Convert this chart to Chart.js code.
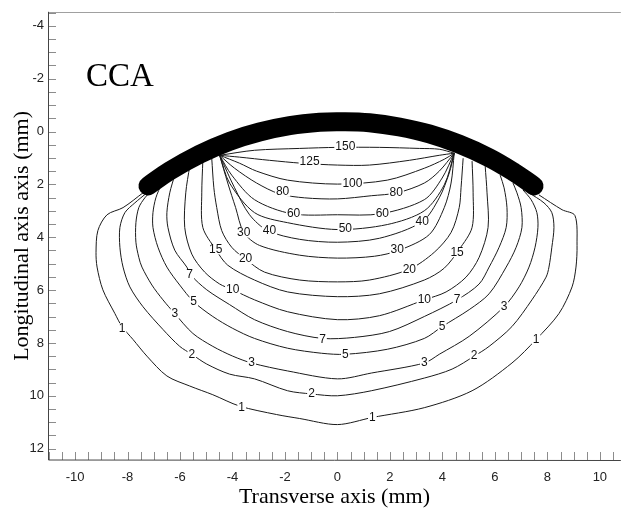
<!DOCTYPE html>
<html>
<head>
<meta charset="utf-8">
<script src="https://cdn.jsdelivr.net/npm/chart.js@4.4.1/dist/chart.umd.min.js"></script>
<style>
  html, body { margin: 0; padding: 0; background: #fff; }
</style>
</head>
<body>
<canvas id="c" width="623" height="511"></canvas>
<script>
// --- CCA contour map (transverse vs longitudinal, mm) ---

// axis ticks (mm)
const xTickLabels = [-10, -8, -6, -4, -2, 0, 2, 4, 6, 8, 10];
const yTickLabels = [-4, -2, 0, 2, 4, 6, 8, 10, 12];

// thick transducer arc, centreline [x, y]
const arc = [[-7.22, 2.06], [-6.39, 1.49], [-5.25, 0.86], [-4.11, 0.37], [-2.97, 0.02], [-1.82, -0.22], [-0.68, -0.35],
  [0.13, -0.37], [1.22, -0.33], [2.36, -0.17], [3.50, 0.09], [4.64, 0.48], [5.78, 0.99], [6.73, 1.54], [7.49, 2.06]];

// iso-contours [x, y]
const lvl150 = [[-4.49, 0.90], [-3.16, 0.71], [-1.44, 0.64], [0, 0.60], [1.60, 0.60], [3.12, 0.64], [3.88, 0.67], [4.45, 0.82]];
const lvl125 = [[-4.49, 0.90], [-3.73, 0.97], [-2.59, 1.09], [-1.37, 1.20], [0, 1.27], [1.22, 1.27], [2.74, 1.09], [3.88, 0.90], [4.45, 0.82]];
const lvl100 = [[-4.49, 0.90], [-3.73, 1.20], [-3.08, 1.50], [-1.90, 1.84], [0, 1.99], [1.90, 1.84], [3.31, 1.39], [4.07, 1.05], [4.45, 0.82]];
const lvl80 = [[-4.49, 0.90], [-3.92, 1.39], [-3.08, 1.95], [-2.21, 2.36], [-1.25, 2.51], [0, 2.55], [1.29, 2.43], [2.28, 2.32],
  [3.31, 1.95], [3.88, 1.50], [4.45, 0.82]];
const lvl60 = [[-4.49, 0.90], [-4.03, 1.65], [-3.16, 2.58], [-1.75, 3.11], [0, 3.15], [1.67, 3.11], [3.31, 2.58], [3.99, 1.76], [4.45, 0.82]];
const lvl50 = [[-4.49, 0.90], [-4.11, 1.95], [-3.16, 3.07], [-1.90, 3.45], [0, 3.71], [1.90, 3.52], [3.31, 3.00], [4.07, 2.02], [4.45, 0.82]];
const lvl40 = [[-4.49, 0.90], [-3.92, 2.13], [-3.35, 3.15], [-2.66, 3.75], [-1.44, 4.08], [0, 4.19], [1.60, 4.04], [3.23, 3.41],
  [3.88, 2.51], [4.26, 1.57], [4.45, 0.82]];
const lvl30 = [[-4.49, 0.90], [-4.18, 1.95], [-3.88, 2.88], [-3.57, 3.82], [-2.97, 4.31], [-1.44, 4.68], [0, 4.79], [1.41, 4.72],
  [2.36, 4.49], [3.50, 3.90], [4.07, 2.88], [4.33, 1.95], [4.45, 0.82]];
const lvl20 = [[-4.79, 1.01], [-4.71, 2.13], [-4.60, 2.88], [-4.41, 3.75], [-4.03, 4.38], [-3.50, 4.83], [-2.78, 5.32], [-1.44, 5.62],
  [0, 5.69], [1.22, 5.62], [2.74, 5.21], [3.69, 4.57], [4.33, 3.82], [4.64, 2.88], [4.71, 2.13], [4.79, 1.01]];
const lvl15 = [[-5.13, 1.12], [-5.17, 2.32], [-5.13, 3.63], [-4.64, 4.46], [-4.18, 5.06], [-3.16, 5.62], [-1.90, 6.07], [0, 6.25],
  [1.60, 6.14], [3.31, 5.62], [4.07, 5.17], [4.64, 4.46], [5.13, 3.63], [5.17, 2.32], [5.13, 1.12]];
const lvl10 = [[-5.63, 1.31], [-5.78, 2.32], [-5.82, 3.63], [-5.55, 4.64], [-5.06, 5.32], [-4.49, 5.77], [-3.99, 5.99], [-3.16, 6.37],
  [-1.90, 6.82], [0, 7.12], [1.60, 6.97], [3.31, 6.37], [4.14, 6.07], [4.90, 5.51], [5.40, 4.76], [5.74, 3.63], [5.70, 2.32], [5.63, 1.31]];
const lvl7 = [[-6.20, 1.65], [-6.39, 2.32], [-6.50, 3.07], [-6.46, 3.63], [-6.20, 4.49], [-5.74, 5.13], [-5.59, 5.43], [-4.98, 5.99],
  [-4.11, 6.55], [-3.16, 7.12], [-1.90, 7.57], [-0.57, 7.83], [0.65, 7.79], [1.98, 7.57], [3.31, 7.00], [4.56, 6.37], [5.40, 5.77],
  [5.78, 5.13], [6.16, 4.38], [6.43, 3.63], [6.46, 2.88], [6.35, 2.13], [6.20, 1.65]];
const lvl5 = [[-6.69, 1.95], [-6.92, 2.51], [-7.03, 3.07], [-7.03, 3.63], [-6.84, 4.38], [-6.50, 5.13], [-6.01, 5.81], [-5.48, 6.44],
  [-4.75, 7.00], [-3.99, 7.45], [-3.16, 7.83], [-1.90, 8.20], [-0.61, 8.39], [0.30, 8.43], [1.90, 8.24], [3.31, 7.83], [3.99, 7.38],
  [5.02, 6.74], [5.78, 6.14], [6.43, 5.13], [6.81, 4.38], [7.03, 3.63], [7.00, 2.88], [6.84, 2.32], [6.69, 1.95]];
const lvl3 = [[-7.07, 2.21], [-7.34, 2.51], [-7.57, 2.88], [-7.68, 3.45], [-7.68, 4.19], [-7.57, 4.76], [-7.45, 5.13], [-7.07, 5.81],
  [-6.65, 6.37], [-6.20, 6.89], [-5.51, 7.64], [-4.75, 8.13], [-3.99, 8.50], [-3.27, 8.76], [-1.90, 9.06], [0, 9.36], [1.29, 9.14],
  [3.31, 8.76], [3.88, 8.43], [5.02, 7.75], [6.35, 6.63], [6.92, 5.88], [7.30, 5.13], [7.53, 4.38], [7.64, 3.63], [7.60, 3.07],
  [7.38, 2.58], [7.07, 2.21]];
const lvl2 = [[-7.26, 2.32], [-7.72, 2.70], [-8.10, 3.07], [-8.29, 3.63], [-8.29, 4.38], [-8.17, 5.13], [-7.91, 5.88], [-7.41, 6.63],
  [-6.65, 7.49], [-6.01, 8.13], [-5.55, 8.43], [-4.98, 8.80], [-4.11, 9.18], [-3.16, 9.36], [-1.90, 9.81], [-0.99, 9.93], [0, 10.00],
  [1.29, 9.81], [3.31, 9.33], [4.37, 8.99], [5.21, 8.50], [5.78, 8.13], [6.65, 7.38], [7.41, 6.37], [7.95, 5.51], [8.06, 5.13],
  [8.17, 4.38], [8.25, 3.63], [8.17, 3.07], [7.87, 2.70], [7.30, 2.32]];
const lvl1 = [[-7.41, 2.32], [-8.17, 2.88], [-8.78, 3.15], [-9.13, 3.75], [-9.20, 4.57], [-9.16, 5.13], [-8.94, 5.99], [-8.48, 6.89],
  [-8.21, 7.38], [-7.79, 7.87], [-7.26, 8.50], [-6.50, 9.25], [-5.63, 9.63], [-4.75, 9.96], [-3.73, 10.39], [-2.32, 10.71],
  [-1.44, 10.86], [0, 11.09], [1.33, 10.82], [3.31, 10.45], [5.13, 9.81], [6.65, 8.76], [7.57, 7.87], [8.44, 6.89], [8.94, 5.88],
  [9.09, 5.13], [9.13, 4.31], [9.05, 3.18], [8.56, 2.96], [7.68, 2.40]];

// contour labels
const labelText = ['150', '125', '100', '80', '80', '60', '60', '50', '40', '40', '30', '30', '20', '20', '15', '15', '10', '10',
  '7', '7', '7', '5', '5', '5', '3', '3', '3', '3', '2', '2', '2', '1', '1', '1', '1'];
const labelX = [0.30, -1.06, 0.57, -2.09, 2.24, -1.67, 1.71, 0.30, -2.59, 3.23, -3.57, 2.28, -3.50, 2.74, -4.64, 4.56, -3.99, 3.31,
  -5.63, -0.57, 4.56, -5.48, 0.30, 3.99, -6.20, -3.27, 3.31, 6.35, -5.55, -0.99, 5.21, -8.21, -3.65, 1.33, 7.57];
const labelY = [0.56, 1.16, 1.99, 2.28, 2.32, 3.11, 3.11, 3.67, 3.75, 3.41, 3.82, 4.49, 4.83, 5.21, 4.46, 4.57, 5.99, 6.37,
  5.43, 7.87, 6.37, 6.44, 8.43, 7.38, 6.89, 8.76, 8.76, 6.63, 8.43, 9.93, 8.50, 7.45, 10.45, 10.82, 7.87];

const contours = [lvl150, lvl125, lvl100, lvl80, lvl60, lvl50, lvl40, lvl30, lvl20, lvl15, lvl10, lvl7, lvl5, lvl3, lvl2, lvl1];

const SANS = '"Liberation Sans", Arial, sans-serif';
const SERIF = '"Liberation Serif", "Times New Roman", serif';

const pts = (arr) => arr.map(p => ({ x: p[0], y: p[1] }));

// minor ticks every 0.5 mm
const minorTicks = (lo, hi) => {
    const out = [];
    for (let v = lo; v <= hi + 1e-9; v += 0.5) out.push({ value: v });
    return out;
};

// 1. PLUGINS
const frameAndTicks = {
    id: 'frameAndTicks',
    afterDraw(chart) {
        const { ctx, chartArea: a, scales: { x, y } } = chart;
        ctx.save();
        ctx.lineWidth = 1;
        ctx.strokeStyle = '#8c8c8c';
        ctx.beginPath();
        x.ticks.forEach(t => {
            const px = Math.round(x.getPixelForValue(t.value)) + 0.5;
            ctx.moveTo(px, a.bottom); ctx.lineTo(px, a.bottom - 8);
        });
        y.ticks.forEach(t => {
            const py = Math.round(y.getPixelForValue(t.value)) + 0.5;
            ctx.moveTo(a.left, py); ctx.lineTo(a.left + 8, py);
        });
        ctx.stroke();
        // frame
        ctx.strokeStyle = '#a0a0a0';
        ctx.beginPath();
        ctx.moveTo(a.left, Math.round(a.top) + 0.5); ctx.lineTo(a.right, Math.round(a.top) + 0.5);
        ctx.stroke();
        ctx.strokeStyle = '#444';
        ctx.beginPath();
        ctx.moveTo(Math.round(a.left) + 0.5, a.top); ctx.lineTo(Math.round(a.left) + 0.5, a.bottom);
        ctx.lineTo(a.right, Math.round(a.bottom) + 0.5);
        ctx.stroke();
        // panel tag
        ctx.fillStyle = '#000';
        ctx.font = '33px ' + SERIF;
        ctx.textBaseline = 'alphabetic';
        ctx.textAlign = 'left';
        ctx.fillText('CCA', x.getPixelForValue(-9.58), y.getPixelForValue(-1.72));
        ctx.restore();
    }
};

const contourLabels = {
    id: 'contourLabels',
    afterDatasetsDraw(chart) {
        const { ctx, scales: { x, y } } = chart;
        ctx.save();
        ctx.font = '12px ' + SANS;
        ctx.textAlign = 'center';
        ctx.textBaseline = 'middle';
        labelText.forEach((t, i) => {
            const px = x.getPixelForValue(labelX[i]);
            const py = y.getPixelForValue(labelY[i]);
            const w = ctx.measureText(t).width;
            ctx.fillStyle = '#fff';
            ctx.fillRect(px - w / 2 - 1, py - 5, w + 2, 10);
            ctx.fillStyle = '#111';
            ctx.fillText(t, px, py);
        });
        ctx.restore();
    }
};

// 2. DATASETS (arc first so it paints on top)
const datasets = [{
    data: pts(arc),
    showLine: true,
    borderColor: '#000',
    borderWidth: 19,
    borderCapStyle: 'round',
    borderJoinStyle: 'round',
    pointRadius: 0,
    tension: 0.4
}].concat(contours.map(c => ({
    data: pts(c),
    showLine: true,
    borderColor: '#1a1a1a',
    borderWidth: 1,
    pointRadius: 0,
    tension: 0.3
})));

// 3. CHART
new Chart(document.getElementById('c'), {
    type: 'scatter',
    data: { datasets },
    options: {
        responsive: false,
        devicePixelRatio: 1,
        animation: false,
        events: [],
        layout: { padding: { top: 7, right: 1, left: 0, bottom: 0 } },
        plugins: { legend: { display: false }, tooltip: { enabled: false } },
        scales: {
            x: {
                type: 'linear',
                min: -11.03,
                max: 10.8,
                afterFit: s => { s.height = 51; },
                afterBuildTicks: s => { s.ticks = minorTicks(-11, 10.5); },
                grid: { display: false, drawTicks: false },
                border: { display: false },
                ticks: {
                    autoSkip: false,
                    maxRotation: 0,
                    padding: 10,
                    color: '#222',
                    font: { family: SANS, size: 13 },
                    callback: v => xTickLabels.includes(v) ? String(v) : ''
                },
                title: {
                    display: true,
                    text: 'Transverse axis (mm)',
                    color: '#000',
                    font: { family: SERIF, size: 22 },
                    padding: { top: 0, bottom: 1 }
                }
            },
            y: {
                type: 'linear',
                reverse: true,
                min: -4.53,
                max: 12.43,
                afterFit: s => { s.width = 48; },
                afterBuildTicks: s => { s.ticks = minorTicks(-4.5, 12.0); },
                grid: { display: false, drawTicks: false },
                border: { display: false },
                ticks: {
                    autoSkip: false,
                    padding: 4,
                    color: '#222',
                    font: { family: SANS, size: 13 },
                    callback: v => yTickLabels.includes(v) ? String(v) : ''
                },
                title: {
                    display: true,
                    text: 'Longitudinal axis axis (mm)',
                    color: '#000',
                    font: { family: SERIF, size: 22 },
                    padding: { top: 9, bottom: 0 }
                }
            }
        }
    },
    plugins: [contourLabels, frameAndTicks]
});
</script>
</body>
</html>
